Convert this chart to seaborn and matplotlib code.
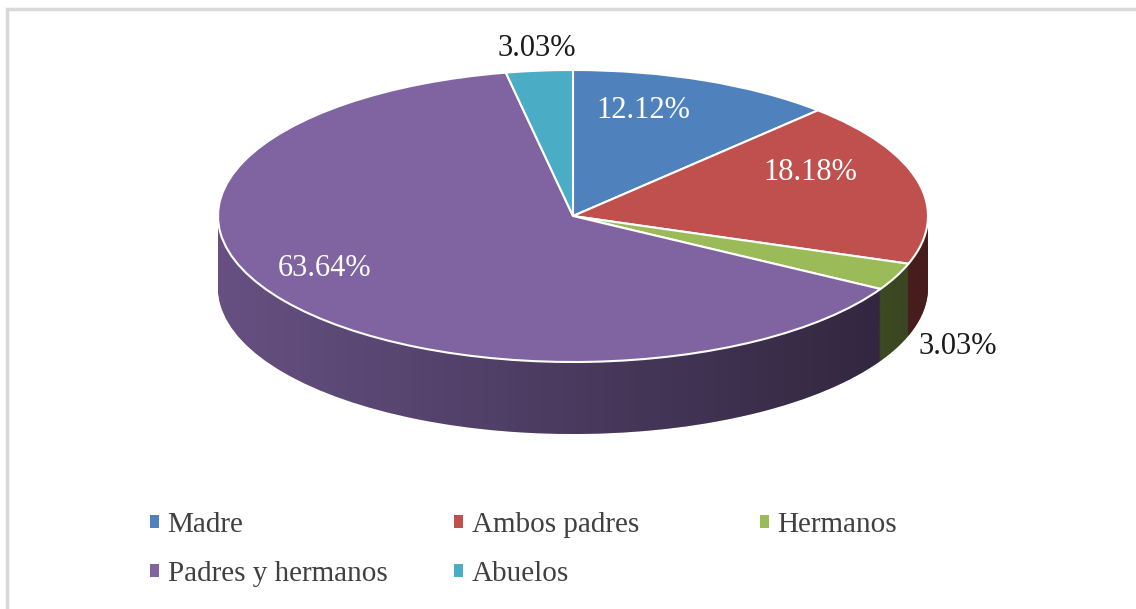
import numpy as np
import matplotlib
matplotlib.use("Agg")
import matplotlib.pyplot as plt
import seaborn as sns
from matplotlib.patches import PathPatch, Rectangle
from matplotlib.path import Path

sns.set_style("white")
plt.rcParams['font.family'] = ['Liberation Serif', 'DejaVu Serif']

# Data
categories = ["Madre", "Ambos padres", "Hermanos", "Padres y hermanos", "Abuelos"]
values = [12.12, 18.18, 3.03, 63.64, 3.03]
colors = ["#4F81BD", "#C0504D", "#9BBB59", "#8064A2", "#4BACC6"]
label_colors = ["white", "white", "#1a1a1a", "white", "#1a1a1a"]

# layout (pixels of the 1136x609 picture)
W, H = 1136, 609
cx, cy = 573, 216      # centre of top face
rx, ry = 355, 146      # ellipse radii
depth_px = 72
depth = depth_px / ry

# where the percent labels sit (pixels)
label_pos = [(643, 110), (810, 172), (958, 346), (325, 268), (537, 48)]

fig = plt.figure(figsize=(W / 100, H / 100), dpi=100)
ax = fig.add_axes([0, 0, 1, 1])

# side of the "3D" pie: stacked darker pies
side_colors = [tuple(c * 0.8 for c in matplotlib.colors.to_rgb(col)) for col in colors]
for d in np.linspace(depth, 0.0, 60):
    ax.pie(values, colors=side_colors, startangle=90, counterclock=False,
           center=(0, -d), radius=1,
           wedgeprops=dict(edgecolor='none', linewidth=0))

# left-to-right shading on the side
t = np.linspace(np.pi, 2 * np.pi, 200)
verts = np.concatenate([np.column_stack([np.cos(t), np.sin(t)]),
                        np.column_stack([np.cos(t[::-1]), np.sin(t[::-1]) - depth])])
side_patch = PathPatch(Path(verts, closed=False), transform=ax.transData,
                       facecolor='none', edgecolor='none')
ax.add_patch(side_patch)
grad = np.zeros((2, 256, 4))
grad[..., 3] = np.linspace(0.0, 0.55, 256)[None, :]
img = ax.imshow(grad, extent=(-1, 1, -1 - depth, 0), aspect='auto',
                interpolation='bilinear', zorder=2)
img.set_clip_path(side_patch)

# top face
wedges, _ = ax.pie(values, colors=colors, startangle=90, counterclock=False,
                   center=(0, 0), radius=1,
                   wedgeprops=dict(edgecolor='white', linewidth=1.5))
for w in wedges:
    w.set_zorder(3)

# percent labels
for v, (px, py), lc in zip(values, label_pos, label_colors):
    ax.text((px - cx) / rx, (cy - py) / ry, f"{v:.2f}%", color=lc,
            fontsize=22, ha='center', va='center', zorder=4)

ax.set_aspect('auto')
ax.set_xlim(-cx / rx, (W - cx) / rx)
ax.set_ylim(-(H - cy) / ry, cy / ry)
ax.axis('off')

# chart frame
fig.patches.append(Rectangle((7 / W, -0.1), 1.2, 1.1 - 9 / H,
                             transform=fig.transFigure, fill=False,
                             edgecolor='#d9d9d9', linewidth=2.5))

# legend, one block per column so the entries read row by row
legend_cols = [[0, 3], [1, 4], [2]]
legend_x = [150, 454, 760]
for idx, lx in zip(legend_cols, legend_x):
    leg = fig.legend([wedges[i] for i in idx], [categories[i] for i in idx],
                     loc='upper left', bbox_to_anchor=(lx / W, 1 - 512 / H),
                     ncol=1, frameon=False, fontsize=21,
                     handlelength=0.3, handleheight=0.3, handletextpad=0.3,
                     labelspacing=0.8, borderaxespad=0, borderpad=0)
    for h in leg.legend_handles:
        h.set_edgecolor('none')
    for txt in leg.get_texts():
        txt.set_color('#404040')

fig.savefig("out.png", dpi=100)
